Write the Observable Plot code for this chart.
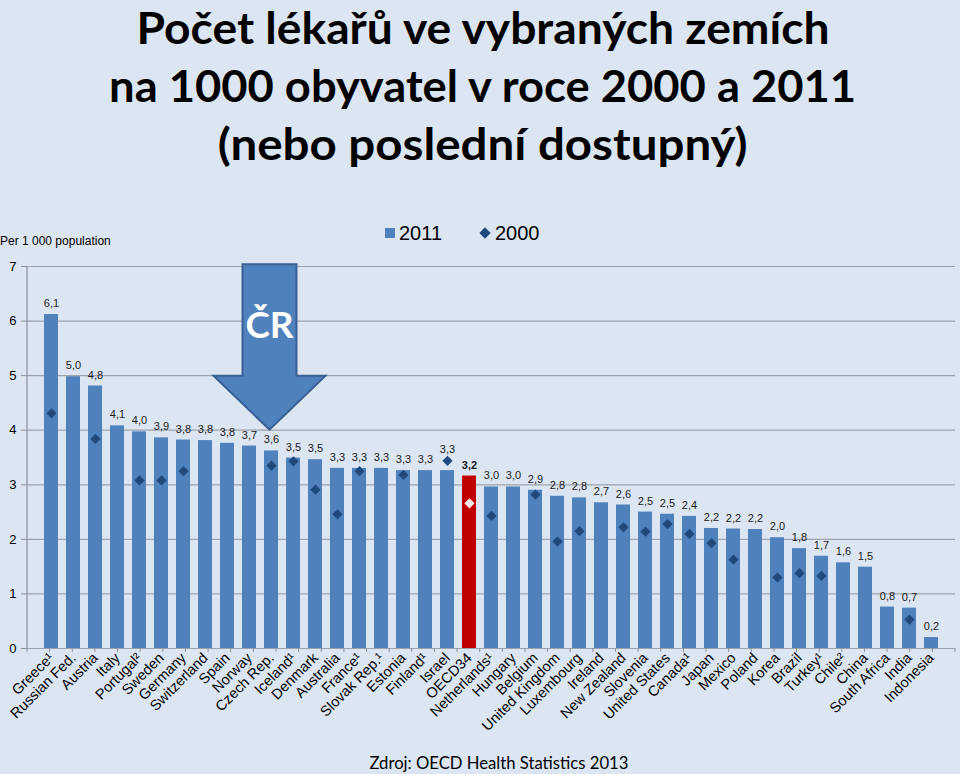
<!DOCTYPE html>
<html>
<head>
<meta charset="utf-8">
<script src="https://cdn.jsdelivr.net/npm/d3@7"></script>
<script src="https://cdn.jsdelivr.net/npm/@observablehq/plot@0.6"></script>
<style>
  html, body { margin: 0; padding: 0; background: #dce6f2; }
  #wrap { position: relative; width: 960px; height: 774px; overflow: hidden; background: #dce6f2;
          font-family: "Liberation Sans", Arial, sans-serif; color: #000; }
  #title { position: absolute; left: 0; top: -2px; width: 966px; text-align: center;
           font-family: Lato, "Open Sans", sans-serif; font-weight: bold; font-size: 44px; line-height: 58px; }
  #title div { white-space: nowrap; }
  .fit { display: inline-block; transform-origin: 50% 50%; white-space: nowrap; }
  #chart { position: absolute; left: 0; top: 200px; }
  #per { position: absolute; left: 0; top: 234px; font-size: 12px; line-height: 14px; }
  #legend { position: absolute; left: 385px; top: 222px; font-size: 20px; line-height: 22px; }
  #legend .item { position: absolute; top: 0; white-space: nowrap; }
  #legend .sq { position: absolute; width: 10px; height: 10px; background: #4f81bd; top: 6px; left: 0; }
  #legend .dm { position: absolute; width: 8px; height: 8px; background: #1f497d; transform: rotate(45deg); top: 7px; left: 96px; }
  #caption { position: absolute; left: 0; width: 997px; top: 753px; text-align: center;
             font-family: Lato, "Open Sans", sans-serif; font-size: 18px; line-height: 18px; }
</style>
</head>
<body>
<div id="wrap">
  <div id="title">
    <div><span class="fit" data-w="693">Počet lékařů ve vybraných zemích</span></div>
    <div><span class="fit" data-w="747">na 1000 obyvatel v roce 2000 a 2011</span></div>
    <div><span class="fit" data-w="530">(nebo poslední dostupný)</span></div>
  </div>
  <div id="chart"></div>
  <div id="per">Per 1 000 population</div>
  <div id="legend"></div>
  <div id="caption"><span class="fit" data-w="259">Zdroj: OECD Health Statistics 2013</span></div>
</div>
<script>
// ---------- data ----------
const countries = ["Greece¹","Russian Fed.","Austria","Italy","Portugal²","Sweden","Germany","Switzerland","Spain","Norway",
  "Czech Rep.","Iceland¹","Denmark","Australia","France¹","Slovak Rep.¹","Estonia","Finland¹","Israel","OECD34",
  "Netherlands¹","Hungary","Belgium","United Kingdom","Luxembourg","Ireland","New Zealand","Slovenia","United States","Canada¹",
  "Japan","Mexico","Poland","Korea","Brazil","Turkey¹","Chile²","China","South Africa","India","Indonesia"];
const v2011 = [6.12,4.98,4.81,4.08,3.97,3.86,3.82,3.81,3.76,3.71,
  3.62,3.49,3.46,3.30,3.30,3.30,3.26,3.26,3.26,3.16,
  2.96,2.96,2.90,2.79,2.76,2.67,2.63,2.50,2.46,2.42,
  2.20,2.19,2.18,2.03,1.83,1.69,1.57,1.49,0.76,0.74,0.20];
const v2000 = [4.31,null,3.84,null,3.08,3.08,3.25,null,null,null,
  3.35,3.43,2.91,2.46,3.25,null,3.18,null,3.44,2.66,
  2.43,null,2.82,1.96,2.15,null,2.22,2.14,2.28,2.10,
  1.93,1.63,null,1.30,1.38,1.33,null,null,null,0.53,null];
const yTicks = [0,1,2,3,4,5,6,7];
const seriesNames = ["2011","2000"];
const highlightCountry = "OECD34";
const arrowNote = {category: "Czech Rep.", top: 7.03, neck: 4.99, tip: 4.0, label: "ČR"};

// ---------- colours ----------
const barColor = "#4f81bd", barHighlight = "#c00000";
const dotColor = "#1f497d", dotHighlight = "#fde9e7";
const gridColor = "#9ca2aa";

const data = countries.map((c, i) => ({country: c, v2011: v2011[i], v2000: v2000[i], hl: c === highlightCountry}));
const fmt = v => v.toFixed(1).replace(".", ",");

const chart = Plot.plot({
  width: 960, height: 574,
  marginTop: 66, marginBottom: 126, marginLeft: 27, marginRight: 5,
  style: {background: "transparent", fontFamily: "'Liberation Sans', Arial, sans-serif", color: "#000", overflow: "visible"},
  x: {domain: countries, paddingInner: 0.35, paddingOuter: 0.175, label: null},
  y: {domain: [0, 7], label: null},
  color: {type: "identity"},
  marks: [
    Plot.ruleY(yTicks, {stroke: gridColor, strokeWidth: 1.2}),
    Plot.barY(data, {x: "country", y: "v2011", fill: d => d.hl ? barHighlight : barColor}),
    Plot.dot(data.filter(d => d.v2000 != null), {x: "country", y: "v2000", symbol: "diamond2", r: 4.6,
      fill: d => d.hl ? dotHighlight : dotColor}),
    Plot.text(data.filter(d => !d.hl), {x: "country", y: d => Math.max(d.v2011, d.v2000 ?? 0), text: d => fmt(d.v2011),
      dy: -11, fontSize: 11, fill: "#1a1a1a"}),
    Plot.text(data.filter(d => d.hl), {x: "country", y: d => Math.max(d.v2011, d.v2000 ?? 0), text: d => fmt(d.v2011),
      dy: -11, fontSize: 11, fontWeight: "bold", fill: "#1a1a1a"}),
    Plot.axisY(yTicks, {tickSize: 6, tickPadding: 5, fontSize: 13, label: null, stroke: "#8a9098", tickFormat: d => String(d)}),
    Plot.axisX({tickRotate: -45, tickSize: 0, tickPadding: 7, fontSize: 14.5, label: null})
  ]
});
document.getElementById("chart").appendChild(chart);

// annotations positioned through Plot's own scales
const xs = chart.scale("x"), ys = chart.scale("y");
const svg = d3.select(chart);
const x0 = xs.range[0], x1 = xs.range[1];
const yBase = ys.apply(0), yTop = ys.apply(7);
svg.append("line").attr("x1", x0).attr("x2", x0).attr("y1", yBase).attr("y2", yTop)
  .attr("stroke", "#8a9098").attr("stroke-width", 1.2);
const n = countries.length, step = (x1 - x0) / n;
for (let i = 0; i <= n; i++) {
  svg.append("line").attr("x1", x0 + i * step).attr("x2", x0 + i * step).attr("y1", yBase).attr("y2", yBase + 4)
    .attr("stroke", "#8a9098").attr("stroke-width", 1);
}
// arrow pointing at Czech Rep.
const cx = xs.apply(arrowNote.category) + xs.bandwidth / 2 - 1.5;
const aTop = ys.apply(arrowNote.top), aNeck = ys.apply(arrowNote.neck), aTip = ys.apply(arrowNote.tip);
const sh = 27, hh = 56;
svg.append("path")
  .attr("d", `M${cx - sh},${aTop}L${cx + sh},${aTop}L${cx + sh},${aNeck}L${cx + hh},${aNeck}L${cx},${aTip}L${cx - hh},${aNeck}L${cx - sh},${aNeck}Z`)
  .attr("fill", "#4f81bd").attr("stroke", "#3a6092").attr("stroke-width", 2).attr("stroke-linejoin", "miter");
svg.append("text").attr("x", cx).attr("y", aNeck - 38).attr("text-anchor", "middle")
  .attr("font-family", "Lato, 'Open Sans', sans-serif").attr("font-weight", "bold").attr("font-size", 37)
  .attr("fill", "#fff").text(arrowNote.label);

// legend
const lg = document.getElementById("legend");
lg.innerHTML = `<div class="sq"></div><div class="item" style="left:14px">${seriesNames[0]}</div>` +
  `<div class="dm"></div><div class="item" style="left:110px">${seriesNames[1]}</div>`;

function fitAll() {
  document.querySelectorAll(".fit").forEach(el => {
    el.style.transform = "none";
    const w = el.getBoundingClientRect().width;
    el.style.transform = `scaleX(${(+el.dataset.w) / w})`;
  });
}
fitAll();
if (document.fonts && document.fonts.ready) document.fonts.ready.then(fitAll);
</script>
</body>
</html>
